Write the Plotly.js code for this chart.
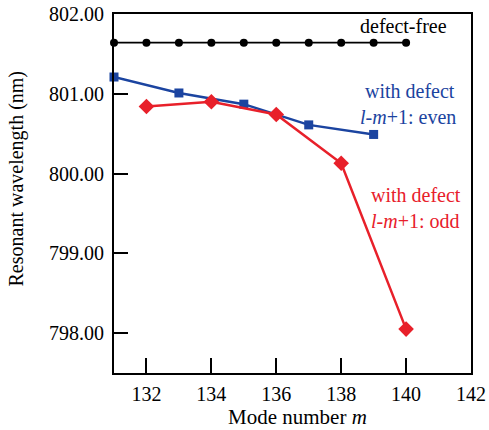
<!DOCTYPE html>
<html><head><meta charset="utf-8">
<script src="https://cdn.plot.ly/plotly-3.0.1.min.js"></script>
<style>html,body{margin:0;padding:0;background:#fff}</style>
</head><body><div id="chart" style="width:489px;height:430px"></div>
<script>
const freeX = [131,132,133,134,135,136,137,138,139,140];
const freeY = [801.64,801.64,801.64,801.64,801.64,801.64,801.64,801.64,801.64,801.64];
const evenX = [131,133,135,137,139];
const evenY = [801.21,801.01,800.87,800.61,800.49];
const oddX = [132,134,136,138,140];
const oddY = [800.84,800.90,800.74,800.13,798.05];
const xTicks = [132,134,136,138,140,142];
const yTicks = [798,799,800,801,802];
const xTitle = "Mode number <i>m</i>";
const yTitle = "Resonant wavelength (nm)";

const FONT = "Liberation Serif";
const BLUE = "#1b44a0", RED = "#e8202a";

const traces = [
  {x: freeX, y: freeY, mode: "lines+markers", line:{color:"#000", width:1.8},
   marker:{symbol:"circle", size:8, color:"#000"}, cliponaxis:false},
  {x: evenX, y: evenY, mode: "lines+markers", line:{color:BLUE, width:2.5},
   marker:{symbol:"square", size:9, color:BLUE}, cliponaxis:false},
  {x: oddX, y: oddY, mode: "lines+markers", line:{color:RED, width:2.5},
   marker:{symbol:"diamond", size:12, color:RED}, cliponaxis:false}
];

const layout = {
  width: 489, height: 430,
  margin: {l:114, r:18, t:14, b:57},
  showlegend: false,
  paper_bgcolor: "#fff", plot_bgcolor: "#fff",
  font: {family: FONT, size: 20, color: "#000"},
  xaxis: {range:[131,142], tickvals:xTicks, ticks:"inside", ticklen:15, tickwidth:2,
    tickcolor:"#000", showline:true, linewidth:2, linecolor:"#000", mirror:true,
    showgrid:false, zeroline:false, tickfont:{family:FONT, size:20}, ticklabelstandoff:2},
  yaxis: {range:[797.5,802], tickvals:yTicks, tickformat:".2f", ticks:"inside", ticklen:14, tickwidth:2,
    tickcolor:"#000", showline:true, linewidth:2, linecolor:"#000", mirror:true,
    showgrid:false, zeroline:false, tickfont:{family:FONT, size:20}, ticklabelstandoff:4},
  annotations: [
    {x:0.5154, y:-0.1226, xref:"paper", yref:"paper", xanchor:"center", yanchor:"middle",
     text:xTitle, showarrow:false, font:{family:FONT, size:21, color:"#000"}},
    {x:0, y:0.5418, xref:"paper", yref:"paper", xanchor:"center", yanchor:"middle", xshift:-98,
     textangle:-90, text:yTitle, showarrow:false, font:{family:FONT, size:20, color:"#000"}},
    {x:139.91, y:801.845, xref:"x", yref:"y", text:"defect-free", showarrow:false,
     font:{family:FONT, size:20, color:"#000"}},
    {x:140.12, y:801.04, xref:"x", yref:"y", text:"with defect", showarrow:false,
     font:{family:FONT, size:20, color:BLUE}},
    {x:140.05, y:800.71, xref:"x", yref:"y", text:"<i>l</i>-<i>m</i>+1: even", showarrow:false,
     font:{family:FONT, size:20, color:BLUE}},
    {x:140.31, y:799.735, xref:"x", yref:"y", text:"with defect", showarrow:false,
     font:{family:FONT, size:20, color:RED}},
    {x:140.29, y:799.41, xref:"x", yref:"y", text:"<i>l</i>-<i>m</i>+1: odd", showarrow:false,
     font:{family:FONT, size:20, color:RED}}
  ]
};
Plotly.newPlot("chart", traces, layout, {displayModeBar:false, staticPlot:true});
</script></body></html>
